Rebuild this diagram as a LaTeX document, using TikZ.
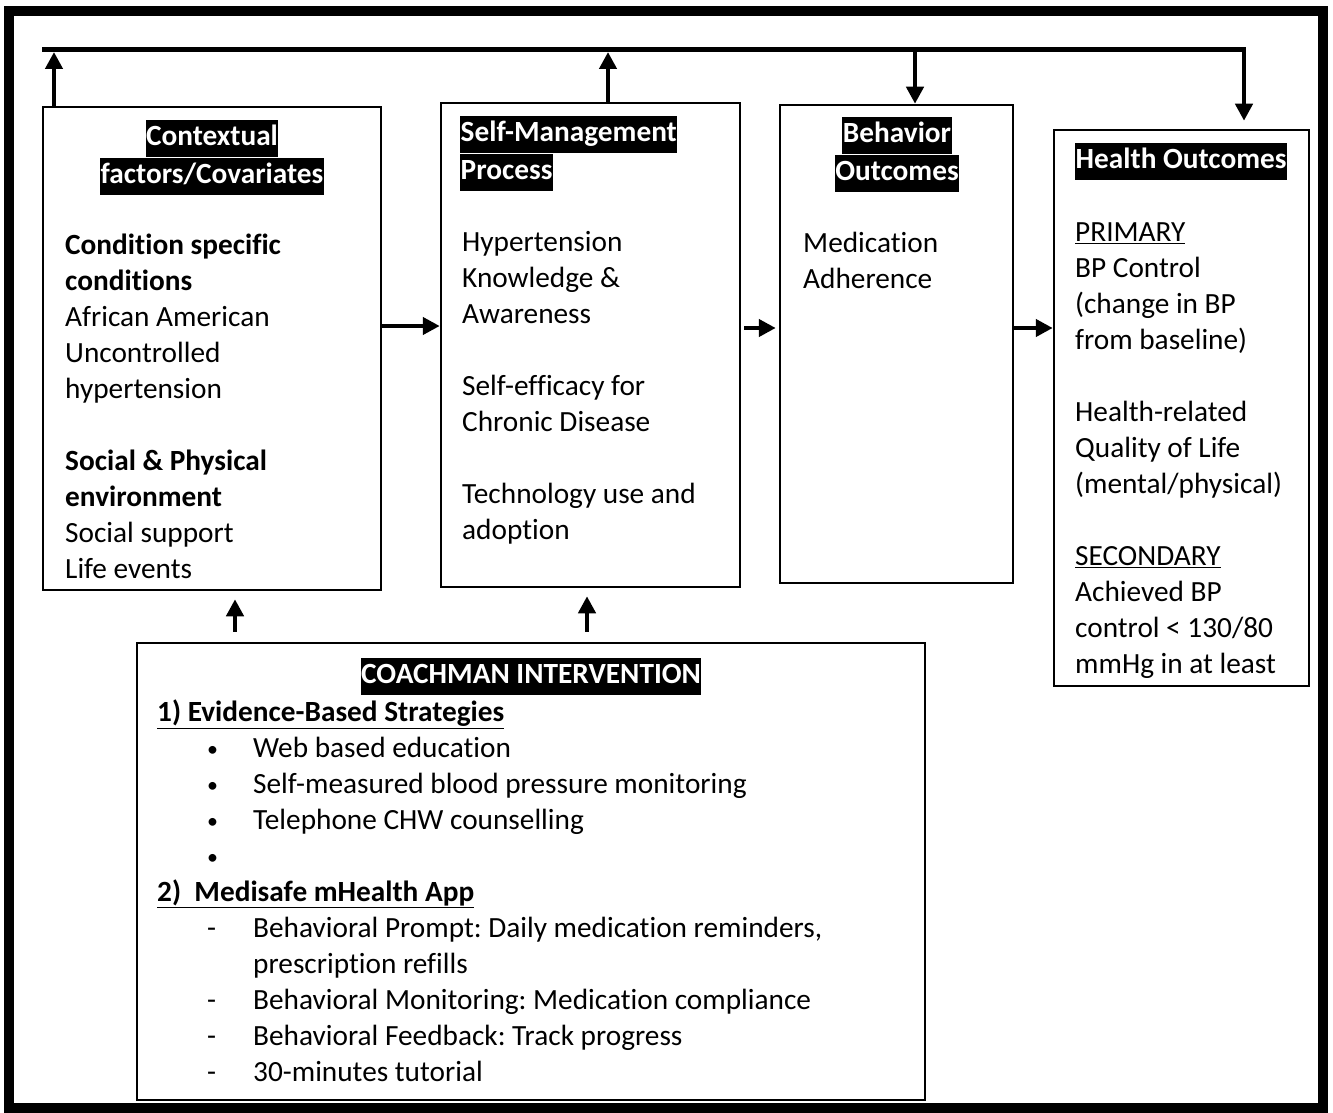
\documentclass[tikz,border=0pt]{standalone}
\usepackage{fontspec}
\setmainfont[Ligatures={NoCommon}]{Carlito}
\usetikzlibrary{arrows.meta}
\frenchspacing
\setlength{\fboxsep}{0.5pt}
\newcommand{\hdr}[1]{\colorbox{black}{\strut\textcolor{white}{\bfseries #1}}}
\newcommand{\itm}[2]{\hspace*{50pt}\makebox[46pt][l]{#1}#2}
\newcommand{\bul}{\raisebox{1pt}{\scalebox{0.75}{\textbullet}}}
\begin{document}
\begin{tikzpicture}[x=1pt,y=-1pt]
	\tikzstyle{Box} = [rectangle, draw=black, line width=2.5pt, inner sep=0pt]
	\tikzstyle{Head} = [inner sep=0pt, font=\fontsize{29.3}{36}\selectfont]
	\tikzstyle{Txt} = [inner sep=0pt, anchor=north west, align=left, font=\fontsize{29.3}{36}\selectfont]
	\tikzstyle{arrow} = [line width=4.5pt, -{Triangle[length=17pt,width=17pt]}]
	
	\useasboundingbox (0,0) rectangle (1333,1113);
	\draw [line width=10pt] (9,11) rectangle (1323,1108);
	
	% boxes
	\node (ctx) [Box, minimum width=338pt, minimum height=483pt] at (212,348.5) {};
	\node (smp) [Box, minimum width=299pt, minimum height=484pt] at (590.5,345) {};
	\node (beh) [Box, minimum width=233pt, minimum height=478pt] at (896.5,344) {};
	\node (hlt) [Box, minimum width=255pt, minimum height=556pt] at (1181.5,408) {};
	\node (cmi) [Box, minimum width=788pt, minimum height=457pt] at (531,871.5) {};
	
	% headers
	\node (ctxh) [Head, anchor=north, align=center] at (212,120) {\hdr{Contextual}\\\hdr{factors/Covariates}};
	\node (smph) [Head, anchor=north west, align=left] at (460,116) {\hdr{Self-Management}\\\hdr{Process}};
	\node (behh) [Head, anchor=north, align=center] at (897,117) {\hdr{Behavior}\\\hdr{Outcomes}};
	\node (hlth) [Head, anchor=north west] at (1075,143) {\hdr{Health Outcomes}};
	\node (cmih) [Head, anchor=north] at (531,658) {\hdr{COACHMAN INTERVENTION}};
	
	% texts
	\node (ctxt) [Txt] at (65,229) {\strut\textbf{Condition specific}\\\textbf{conditions}\\African American\\Uncontrolled\\hypertension\\[36pt]
		\textbf{Social \& Physical}\\\textbf{environment}\\Social support\\Life events};
	\node (smpt) [Txt] at (462,226) {\strut Hypertension\\Knowledge \&\\Awareness\\[36pt]Self-efficacy for\\Chronic Disease\\[36pt]Technology use and\\adoption};
	\node (beht) [Txt] at (803,227) {\strut Medication\\Adherence};
	\node (hltt) [Txt] at (1075,216) {\strut\underline{PRIMARY}\\BP Control\\(change in BP\\from baseline)\\[36pt]Health-related\\Quality of Life\\(mental/physical)\\[36pt]
		\underline{SECONDARY}\\Achieved BP\\control < 130/80\\mmHg in at least};
	\node (cmit) [Txt] at (157,696) {\strut\underline{\textbf{1) Evidence-Based Strategies}}\\
		\itm{\bul}{Web based education}\\
		\itm{\bul}{Self-measured blood pressure monitoring}\\
		\itm{\bul}{Telephone CHW counselling}\\
		\itm{\bul}{}\\
		\underline{\textbf{2)~~Medisafe mHealth App}}\\
		\itm{-}{Behavioral Prompt: Daily medication reminders,}\\
		\itm{}{prescription refills}\\
		\itm{-}{Behavioral Monitoring: Medication compliance}\\
		\itm{-}{Behavioral Feedback: Track progress}\\
		\itm{-}{30-minutes tutorial}};
	
	% feedback line
	\coordinate (tl) at (42,49.5);
	\coordinate (tr) at (1246,49.5);
	\coordinate (up1) at (54,49.5);
	\coordinate (up2) at (608,49.5);
	\coordinate (dn3) at (915,49.5);
	\coordinate (dn4) at (1244,49.5);
	\draw [line width=5pt] (tl) -- (tr);
	\draw [arrow] (ctx.north -| up1) -- ([yshift=-2.5pt]up1);
	\draw [arrow] (smp.north -| up2) -- ([yshift=-2.5pt]up2);
	\draw [arrow] ([yshift=-2pt]dn3) -- (beh.north -| dn3);
	\draw [arrow] ([yshift=-2pt]dn4) -- ([yshift=8pt]hlt.north -| dn4);
	
	% flow arrows
	\coordinate (m1) at (0,326);
	\coordinate (m2) at (0,328);
	\draw [arrow] (ctx.east |- m1) -- (smp.west |- m1);
	\draw [arrow] ([xshift=3pt]smp.east |- m2) -- ([xshift=-3pt]beh.west |- m2);
	\draw [arrow] (beh.east |- m2) -- (hlt.west |- m2);
	
	% intervention arrows
	\coordinate (in1) at (235,0);
	\coordinate (in2) at (587,0);
	\draw [arrow, shorten <=10pt, shorten >=8pt] (cmi.north -| in1) -- (ctx.south -| in1);
	\draw [arrow, shorten <=10pt, shorten >=8pt] (cmi.north -| in2) -- (smp.south -| in2);
\end{tikzpicture}
\end{document}
